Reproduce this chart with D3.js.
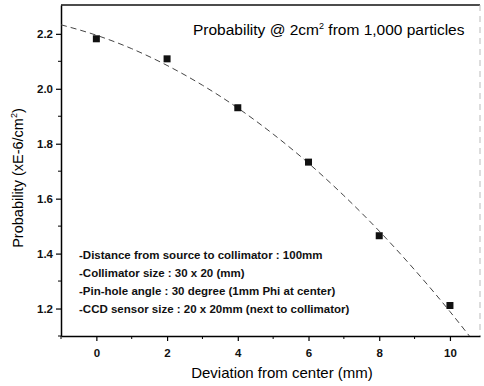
<!DOCTYPE html>
<html>
<head>
<meta charset="utf-8">
<script src="https://cdn.jsdelivr.net/npm/d3@7"></script>
<style>
  body { margin: 0; background: #fff; }
  svg { display: block; font-family: Arial, "Liberation Sans", sans-serif; }
</style>
</head>
<body>
<div id="chart"></div>
<script>
// measured points
var deviation = [0, 2, 4, 6, 8, 10];
var probability = [2.182, 2.109, 1.931, 1.733, 1.465, 1.211];

// fitted curve
var fitX = [-1, 0, 1, 2, 3, 4, 5, 6, 7, 8, 9, 10, 10.55];
var fitY = [2.233, 2.195, 2.146, 2.085, 2.013, 1.930, 1.835, 1.729, 1.611, 1.482, 1.341, 1.189, 1.10];

var xTicks = [0, 2, 4, 6, 8, 10];
var xMinor = [-1, 1, 3, 5, 7, 9];
var yTicks = [1.2, 1.4, 1.6, 1.8, 2.0, 2.2];
var yMinor = [1.1, 1.3, 1.5, 1.7, 1.9, 2.1];

var notes = [
  "-Distance from source to collimator : 100mm",
  "-Collimator size : 30 x 20 (mm)",
  "-Pin-hole angle : 30 degree (1mm Phi at center)",
  "-CCD sensor size : 20 x 20mm (next to collimator)"
];

var width = 484, height = 386;
var margin = {top: 5, right: 4, bottom: 50, left: 61};

var svg = d3.select("#chart")
  .append("svg")
  .attr("width", width)
  .attr("height", height);

var x = d3.scaleLinear()
  .domain([-1, 10.85])
  .range([margin.left, width - margin.right]);

var y = d3.scaleLinear()
  .domain([1.1, 2.305])
  .range([height - margin.bottom, margin.top]);

// frame top / right
svg.append("line")
  .attr("x1", margin.left).attr("x2", width - margin.right)
  .attr("y1", margin.top).attr("y2", margin.top)
  .style("stroke", "#111").style("stroke-width", 1.5);
svg.append("line")
  .attr("x1", width - margin.right).attr("x2", width - margin.right)
  .attr("y1", margin.top).attr("y2", height - margin.bottom)
  .style("stroke", "#bbb").style("stroke-width", 1)
  .style("stroke-dasharray", "6,5");

// x axis
var xAxis = svg.append("g")
  .attr("transform", "translate(0," + (height - margin.bottom) + ")")
  .call(d3.axisBottom(x).tickValues(xTicks).tickFormat(d3.format("d")).tickSize(5).tickSizeOuter(0));
xAxis.append("g").selectAll("line")
  .data(xMinor)
  .enter()
  .append("line")
  .attr("x1", d => x(d)).attr("x2", d => x(d))
  .attr("y1", 0).attr("y2", 3)
  .style("stroke", "#000");

// y axis
var yAxis = svg.append("g")
  .attr("transform", "translate(" + margin.left + ",0)")
  .call(d3.axisLeft(y).tickValues(yTicks).tickFormat(d3.format(".1f")).tickSize(5).tickSizeOuter(0));
yAxis.append("g").selectAll("line")
  .data(yMinor)
  .enter()
  .append("line")
  .attr("x1", 0).attr("x2", -3)
  .attr("y1", d => y(d)).attr("y2", d => y(d))
  .style("stroke", "#000");

svg.selectAll(".domain").style("stroke-width", 1.5);
svg.selectAll(".tick line").style("stroke-width", 1.2);
svg.selectAll(".tick text")
  .style("font-size", "11.5px")
  .style("font-weight", "bold")
  .style("fill", "#111");
xAxis.selectAll(".tick text").attr("dy", "1.1em");

// axis titles
svg.append("text")
  .attr("x", 282)
  .attr("y", 378)
  .attr("text-anchor", "middle")
  .style("font-size", "15px")
  .text("Deviation from center (mm)");

var yt = svg.append("text")
  .attr("transform", "translate(23,178) rotate(-90)")
  .attr("text-anchor", "middle")
  .style("font-size", "14.5px");
yt.append("tspan").text("Probability (xE-6/cm");
yt.append("tspan").attr("dy", -6).style("font-size", "9px").text("2");
yt.append("tspan").attr("dy", 6).text(")");

// title
var title = svg.append("text")
  .attr("x", 193)
  .attr("y", 35)
  .style("font-size", "15.5px");
title.append("tspan").text("Probability @ 2cm");
title.append("tspan").attr("dy", -6).style("font-size", "9px").text("2");
title.append("tspan").attr("dy", 6).text(" from 1,000 particles");

// fit curve
var line = d3.line()
  .x((d, i) => x(fitX[i]))
  .y(d => y(d))
  .curve(d3.curveMonotoneX);

svg.append("path")
  .datum(fitY)
  .attr("d", line)
  .style("fill", "none")
  .style("stroke", "#444")
  .style("stroke-width", 1)
  .style("stroke-dasharray", "6,4");

// points
svg.selectAll("rect.pt")
  .data(probability)
  .enter()
  .append("rect")
  .attr("class", "pt")
  .attr("x", (d, i) => x(deviation[i]) - 3.5)
  .attr("y", d => y(d) - 3.5)
  .attr("width", 7)
  .attr("height", 7)
  .style("fill", "#111");

// notes
svg.selectAll("text.note")
  .data(notes)
  .enter()
  .append("text")
  .attr("class", "note")
  .attr("x", 79)
  .attr("y", (d, i) => 259 + i * 18)
  .style("font-size", "11.5px")
  .style("font-weight", "bold")
  .style("fill", "#111")
  .text(d => d);
</script>
</body>
</html>
